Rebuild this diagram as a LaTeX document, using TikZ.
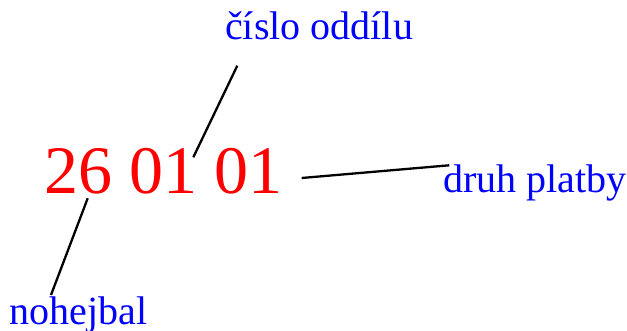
\documentclass[tikz,border=0pt]{standalone}
\usepackage{fontspec}
\setmainfont{Liberation Serif}
\begin{document}
\begin{tikzpicture}[x=1pt,y=1pt,
  numtext/.style={anchor=base west,inner sep=0pt,text=red,font=\fontsize{68}{80}\selectfont},
  labtext/.style={anchor=base west,inner sep=0pt,text=blue,font=\fontsize{40}{48}\selectfont},
  conn/.style={draw=black,line width=2.3pt}]
\useasboundingbox (0,0) rectangle (627,331);
\node[numtext] (num) at (44.5,137) {26 01 01};
\node[labtext] (cislo) at (225,291.7) {číslo oddílu};
\node[labtext] (druh) at (443,138.3) {druh platby};
\node[labtext] (nohej) at (9.5,6) {nohejbal};
\coordinate (c1a) at (237.3,265.3);
\coordinate (c1b) at (193.3,173.7);
\coordinate (c2a) at (301.7,153);
\coordinate (c2b) at (449.3,165.7);
\coordinate (c3a) at (87.7,132.7);
\coordinate (c3b) at (51,36);
\draw[conn] (c1a) -- (c1b);
\draw[conn] (c2a) -- (c2b);
\draw[conn] (c3a) -- (c3b);
\end{tikzpicture}
\end{document}
